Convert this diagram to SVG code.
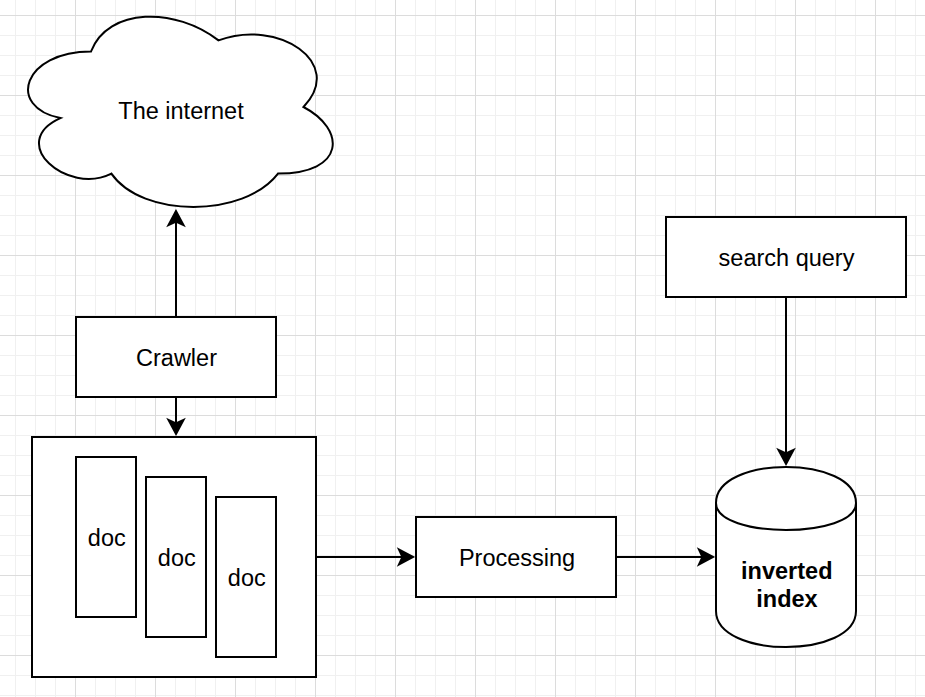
<svg xmlns="http://www.w3.org/2000/svg" xmlns:xlink="http://www.w3.org/1999/xlink" width="925" height="697" viewBox="0 0 925 697">
  <style>
    .shape { fill: #ffffff; stroke: #000000; stroke-width: 2; }
    .edge { fill: none; stroke: #000000; stroke-width: 2; }
    .label { font-family: "Liberation Sans", Arial, Helvetica, sans-serif; font-size: 23.5px; fill: #000000; text-anchor: middle; }
    .bold { font-weight: bold; }
  </style>
  <defs>
    <pattern id="grid" x="15" y="15" width="80" height="80" patternUnits="userSpaceOnUse">
      <g stroke="#f0f0f0" stroke-width="1">
        <line x1="0.5" y1="0" x2="0.5" y2="80"/>
        <line x1="20.5" y1="0" x2="20.5" y2="80"/>
        <line x1="40.5" y1="0" x2="40.5" y2="80"/>
        <line x1="0" y1="20.5" x2="80" y2="20.5"/>
        <line x1="0" y1="40.5" x2="80" y2="40.5"/>
        <line x1="0" y1="60.5" x2="80" y2="60.5"/>
      </g>
      <g stroke="#dcdcdc" stroke-width="1">
        <line x1="60.5" y1="0" x2="60.5" y2="80"/>
        <line x1="0" y1="0.5" x2="80" y2="0.5"/>
      </g>
    </pattern>
    <path id="ah" d="M0,0 L-14,-7.5 L-10.5,0 L-14,7.5 Z" fill="#000000" stroke="#000000" stroke-width="2" stroke-linejoin="miter"/>
  </defs>

  <rect x="0" y="0" width="925" height="697" fill="#ffffff"/>
  <rect x="0" y="0" width="925" height="697" fill="url(#grid)"/>

  <g id="internet">
    <path class="shape" d="M91,51.5 C23,51.5 6,107 60.4,118.1 C6,142.52 67.2,195.8 111.4,173.6 C142,218 244,218 278,173.6 C346,173.6 346,129.2 303.5,107 C346,62.6 278,18.2 218.5,40.4 C176,7.1 108,7.1 91,51.5 Z"/>
    <text class="label" x="181" y="119">The internet</text>
  </g>

  <g id="crawler">
    <rect class="shape" x="76" y="317" width="200" height="80"/>
    <text class="label" x="176.5" y="365.7">Crawler</text>
  </g>

  <g id="docs">
    <rect class="shape" x="32" y="437" width="284" height="240"/>
  </g>
  <g id="doc1">
    <rect class="shape" x="76" y="457" width="60" height="160"/>
    <text class="label" x="106.8" y="545.7">doc</text>
  </g>
  <g id="doc2">
    <rect class="shape" x="146" y="477" width="60" height="160"/>
    <text class="label" x="176.8" y="565.7">doc</text>
  </g>
  <g id="doc3">
    <rect class="shape" x="216" y="497" width="60" height="160"/>
    <text class="label" x="246.8" y="585.7">doc</text>
  </g>

  <g id="processing">
    <rect class="shape" x="416" y="517" width="200" height="80"/>
    <text class="label" x="517" y="565.7">Processing</text>
  </g>

  <g id="search-query">
    <rect class="shape" x="666" y="217" width="240" height="80"/>
    <text class="label" x="786.5" y="265.7">search query</text>
  </g>

  <g id="inverted-index">
    <path class="shape" d="M716,503 C716,455 856,455 856,503 L856,611 C856,659 716,659 716,611 Z"/>
    <path class="edge" d="M716,503 C716,539 856,539 856,503"/>
    <text class="label bold" x="786.8" y="579.3">inverted</text>
    <text class="label bold" x="787" y="606.7">index</text>
  </g>

  <g id="connectors">
    <line class="edge" x1="176" y1="317" x2="176" y2="221"/>
    <use xlink:href="#ah" transform="translate(176,211) rotate(-90)"/>

    <line class="edge" x1="176" y1="397" x2="176" y2="424"/>
    <use xlink:href="#ah" transform="translate(176,434) rotate(90)"/>

    <line class="edge" x1="316" y1="557" x2="403" y2="557"/>
    <use xlink:href="#ah" transform="translate(413,557)"/>

    <line class="edge" x1="616" y1="557" x2="703" y2="557"/>
    <use xlink:href="#ah" transform="translate(713,557)"/>

    <line class="edge" x1="786" y1="297" x2="786" y2="454"/>
    <use xlink:href="#ah" transform="translate(786,464) rotate(90)"/>
  </g>
</svg>
